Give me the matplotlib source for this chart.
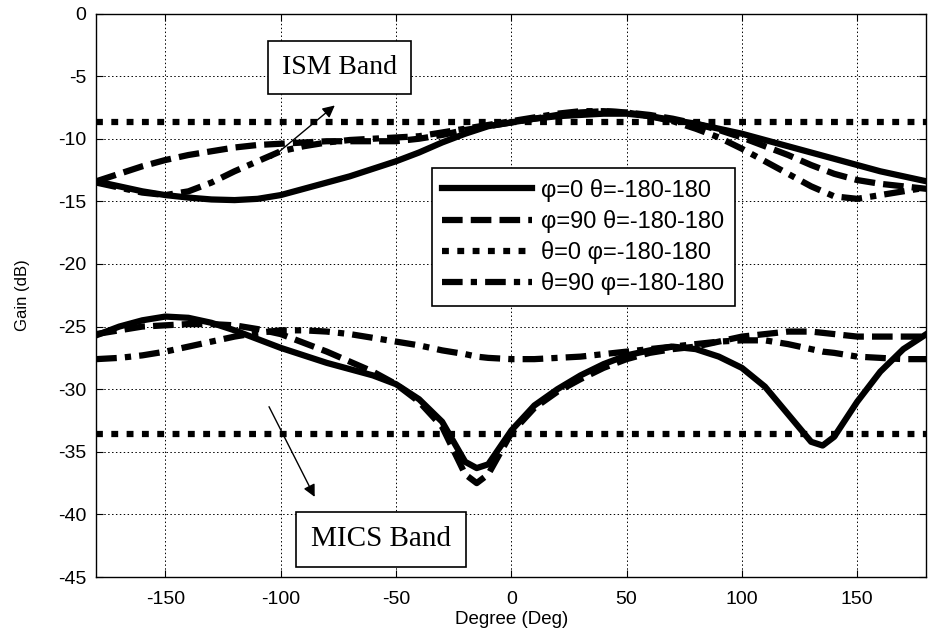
import numpy as np
import matplotlib
matplotlib.use("Agg")
from matplotlib import pyplot as plt

plt.rcParams['font.family'] = ['Liberation Sans', 'DejaVu Sans']
plt.rcParams['axes.unicode_minus'] = False

# angle grids (deg)
deg = [-180, -170, -160, -150, -140, -130, -120, -110, -100, -90, -80, -70, -60,
       -50, -40, -30, -20, -10, 0, 10, 20, 30, 40, 50, 60, 70, 80, 90, 100, 110,
       120, 130, 140, 150, 160, 170, 180]

# ISM band gains (dB)
ism_phi0 = [-13.4, -13.8, -14.2, -14.5, -14.7, -14.85, -14.9, -14.8, -14.5, -14.0,
            -13.5, -13.0, -12.4, -11.8, -11.1, -10.3, -9.6, -9.0, -8.7, -8.4, -8.2,
            -8.1, -8.0, -8.0, -8.2, -8.5, -8.8, -9.2, -9.6, -10.1, -10.6, -11.1,
            -11.6, -12.1, -12.6, -13.0, -13.4]
ism_phi90 = [-13.4, -12.8, -12.2, -11.7, -11.3, -11.0, -10.7, -10.5, -10.4, -10.3,
             -10.2, -10.2, -10.2, -10.2, -10.0, -9.7, -9.3, -9.0, -8.7, -8.4, -8.1,
             -7.9, -7.8, -7.9, -8.1, -8.4, -8.8, -9.3, -9.9, -10.6, -11.3, -12.1,
             -12.8, -13.3, -13.6, -13.8, -14.0]
ism_theta90 = [-13.5, -13.9, -14.3, -14.5, -14.2, -13.5, -12.6, -11.8, -11.0, -10.6,
               -10.3, -10.1, -10.0, -9.9, -9.8, -9.5, -9.2, -8.9, -8.6, -8.3, -8.0,
               -7.8, -7.8, -7.9, -8.2, -8.6, -9.2, -9.9, -10.8, -11.8, -12.8, -13.8,
               -14.6, -14.8, -14.5, -14.2, -13.9]
ism_theta0 = -8.7

# MICS band gains (dB)
deg_mics = [-180, -170, -160, -150, -140, -130, -120, -110, -100, -90, -80, -70, -60,
            -50, -40, -30, -20, -15, -10, 0, 10, 20, 30, 40, 50, 60, 70, 80, 90, 100,
            110, 120, 130, 135, 140, 150, 160, 170, 180]
mics_phi0 = [-25.7, -25.0, -24.5, -24.2, -24.3, -24.7, -25.3, -26.0, -26.7, -27.3,
             -27.9, -28.4, -28.9, -29.6, -30.8, -32.6, -35.8, -36.3, -36.0, -33.3,
             -31.3, -30.0, -28.9, -28.0, -27.3, -26.9, -26.6, -26.8, -27.4, -28.3,
             -29.8, -32.0, -34.2, -34.5, -33.8, -31.0, -28.6, -26.8, -25.6]
mics_phi90 = [-25.6, -25.3, -25.0, -24.9, -24.8, -24.8, -24.9, -25.2, -25.6, -26.3,
              -27.0, -27.8, -28.6, -29.6, -31.0, -33.0, -36.8, -37.5, -36.8, -33.5,
              -31.5, -30.2, -29.2, -28.3, -27.6, -27.1, -26.8, -26.6, -26.2, -25.8,
              -25.6, -25.4, -25.4, -25.5, -25.6, -25.8, -25.8, -25.8, -25.8]
mics_theta90 = [-27.6, -27.5, -27.3, -27.0, -26.6, -26.2, -25.8, -25.5, -25.3, -25.3,
                -25.4, -25.6, -25.9, -26.2, -26.5, -26.9, -27.2, -27.4, -27.5, -27.6,
                -27.6, -27.5, -27.4, -27.2, -27.0, -26.8, -26.6, -26.4, -26.2, -26.1,
                -26.1, -26.4, -26.8, -27.0, -27.1, -27.4, -27.5, -27.6, -27.6]
mics_theta0 = -33.6

labels = [u'\u03c6=0 \u03b8=-180-180', u'\u03c6=90 \u03b8=-180-180',
          u'\u03b8=0 \u03c6=-180-180', u'\u03b8=90 \u03c6=-180-180']

fig = plt.figure(figsize=(9.32, 6.43), dpi=100)
ax = fig.add_axes([0.1032, 0.1026, 0.8908, 0.8764])

lw = 4.5
sty_dash = (0, (3.3, 1.3))
sty_dot = (0, (1.1, 1.35))
sty_dd = (0, (3.3, 1.3, 1.0, 1.3))

ax.plot(deg, ism_phi0, color='k', lw=lw, label=labels[0])
ax.plot(deg, ism_phi90, color='k', lw=lw, ls=sty_dash, label=labels[1])
ax.plot([-180, 180], [ism_theta0, ism_theta0], color='k', lw=lw, ls=sty_dot,
        dash_capstyle='butt', label=labels[2])
ax.plot(deg, ism_theta90, color='k', lw=lw, ls=sty_dd, label=labels[3])

ax.plot(deg_mics, mics_phi0, color='k', lw=lw)
ax.plot(deg_mics, mics_phi90, color='k', lw=lw, ls=sty_dash)
ax.plot([-180, 180], [mics_theta0, mics_theta0], color='k', lw=lw, ls=sty_dot,
        dash_capstyle='butt')
ax.plot(deg_mics, mics_theta90, color='k', lw=lw, ls=sty_dd)

ax.set_xlim(-180, 180)
ax.set_ylim(-45, 0)
ax.set_xticks([-150, -100, -50, 0, 50, 100, 150])
ax.set_yticks(np.arange(-45, 1, 5))
ax.grid(True, color='k', ls=(0, (1.5, 2.5)), lw=0.7)
ax.tick_params(direction='in', top=True, right=True, length=5, labelsize=14)
ax.tick_params(axis='x', pad=10)
ax.tick_params(axis='y', pad=7)
for s in ax.spines.values():
    s.set_linewidth(1.0)
ax.set_xlabel('Degree (Deg)', fontsize=13.5, labelpad=2)
ax.set_ylabel('Gain (dB)', fontsize=12, labelpad=20)

leg = ax.legend(loc='upper left', bbox_to_anchor=(0.404, 0.726), fontsize=17,
                handlelength=3.8, fancybox=False, framealpha=1, edgecolor='k',
                borderpad=0.45, labelspacing=0.35, handletextpad=0.4,
                borderaxespad=0)
leg.get_frame().set_linewidth(1.2)

box = dict(boxstyle='square,pad=0.5', fc='white', ec='k', lw=1.2)
ax.text(-74.5, -4.3, 'ISM Band', family='Liberation Serif', fontsize=20,
        ha='center', va='center', bbox=box)
ax.text(-56.5, -42.0, 'MICS Band', family='Liberation Serif', fontsize=21,
        ha='center', va='center', bbox=box)
ax.annotate('', xy=(-75.6, -7.2), xytext=(-105, -11.7),
            arrowprops=dict(arrowstyle='-|>', color='k', lw=1, mutation_scale=18))
ax.annotate('', xy=(-84.7, -38.8), xytext=(-105.6, -31.2),
            arrowprops=dict(arrowstyle='-|>', color='k', lw=1, mutation_scale=18))

fig.savefig('out.png', dpi=100)
